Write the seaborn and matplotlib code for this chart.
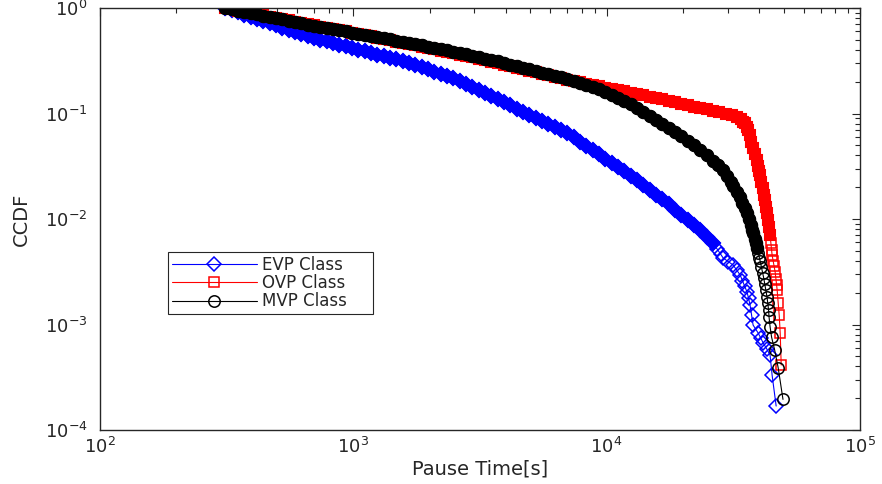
import numpy as np
import pandas as pd
import matplotlib
matplotlib.use("Agg")
import matplotlib.pyplot as plt
import seaborn as sns
from matplotlib.ticker import LogLocator, NullFormatter

# Pause-time CCDF per vehicle class, stored as log10(time [s]) and log10(CCDF)
evp_log_time = [
    2.494, 2.52, 2.545, 2.57, 2.595, 2.62, 2.645, 2.67, 2.695, 2.72,
    2.745, 2.77, 2.795, 2.82, 2.845, 2.87, 2.895, 2.92, 2.945, 2.97,
    2.995, 3.02, 3.045, 3.07, 3.095, 3.12, 3.145, 3.17, 3.195, 3.22,
    3.245, 3.27, 3.295, 3.32, 3.345, 3.37, 3.395, 3.42, 3.445, 3.47,
    3.495, 3.52, 3.545, 3.57, 3.595, 3.62, 3.645, 3.67, 3.695, 3.72,
    3.745, 3.77, 3.795, 3.82, 3.845, 3.87, 3.895, 3.92, 3.945, 3.97,
    3.995, 4.02, 4.045, 4.07, 4.095, 4.12, 4.145, 4.17, 4.195, 4.22,
    4.245, 4.27, 4.295, 4.32, 4.345, 4.37, 4.395, 4.42, 4.435, 4.45,
    4.46, 4.48, 4.499, 4.513, 4.527, 4.536, 4.545, 4.554, 4.560, 4.566,
    4.572, 4.578, 4.598, 4.608, 4.618, 4.632, 4.645, 4.653, 4.669,
]
evp_log_ccdf = [
    0.000, -0.021, -0.042, -0.063, -0.083, -0.104, -0.125, -0.145, -0.165, -0.186,
    -0.206, -0.227, -0.247, -0.268, -0.285, -0.301, -0.316, -0.332, -0.347, -0.363,
    -0.379, -0.394, -0.410, -0.425, -0.441, -0.456, -0.472, -0.487, -0.503, -0.519,
    -0.539, -0.560, -0.581, -0.602, -0.623, -0.644, -0.668, -0.696, -0.724, -0.751,
    -0.779, -0.807, -0.834, -0.862, -0.892, -0.923, -0.954, -0.985, -1.016, -1.045,
    -1.074, -1.102, -1.130, -1.158, -1.187, -1.227, -1.267, -1.307, -1.347, -1.387,
    -1.427, -1.467, -1.507, -1.547, -1.588, -1.631, -1.677, -1.723, -1.769, -1.815,
    -1.862, -1.911, -1.960, -2.009, -2.059, -2.109, -2.168, -2.227, -2.281, -2.334,
    -2.370, -2.404, -2.436, -2.483, -2.531, -2.585, -2.638, -2.692, -2.750, -2.815,
    -2.910, -3.005, -3.081, -3.128, -3.175, -3.232, -3.289, -3.479, -3.773,
]

ovp_log_time = [
    2.494, 2.52, 2.545, 2.57, 2.595, 2.62, 2.645, 2.67, 2.695, 2.72,
    2.745, 2.77, 2.795, 2.82, 2.845, 2.87, 2.895, 2.92, 2.945, 2.97,
    2.995, 3.02, 3.045, 3.07, 3.095, 3.12, 3.145, 3.17, 3.195, 3.22,
    3.245, 3.27, 3.295, 3.32, 3.345, 3.37, 3.395, 3.42, 3.445, 3.47,
    3.495, 3.52, 3.545, 3.57, 3.595, 3.62, 3.645, 3.67, 3.695, 3.72,
    3.745, 3.77, 3.795, 3.82, 3.845, 3.87, 3.895, 3.92, 3.945, 3.97,
    3.995, 4.02, 4.045, 4.07, 4.095, 4.12, 4.145, 4.17, 4.195, 4.22,
    4.245, 4.27, 4.295, 4.32, 4.345, 4.37, 4.395, 4.42, 4.445, 4.47,
    4.495, 4.515, 4.53, 4.54, 4.545, 4.552, 4.558, 4.564, 4.571, 4.578,
    4.586, 4.594, 4.599, 4.603, 4.606, 4.611, 4.616, 4.621, 4.625, 4.629,
    4.633, 4.637, 4.641, 4.645, 4.648, 4.651, 4.653, 4.657, 4.661, 4.665,
    4.668, 4.671, 4.673, 4.677, 4.681, 4.685, 4.689,
]
ovp_log_ccdf = [
    0.000, -0.012, -0.024, -0.035, -0.047, -0.058, -0.070, -0.082, -0.094, -0.106,
    -0.118, -0.130, -0.142, -0.154, -0.165, -0.177, -0.188, -0.200, -0.211, -0.222,
    -0.234, -0.245, -0.257, -0.270, -0.282, -0.294, -0.306, -0.319, -0.331, -0.343,
    -0.355, -0.368, -0.380, -0.393, -0.405, -0.418, -0.430, -0.443, -0.456, -0.469,
    -0.483, -0.496, -0.510, -0.523, -0.537, -0.551, -0.565, -0.579, -0.593, -0.607,
    -0.622, -0.636, -0.650, -0.665, -0.679, -0.692, -0.705, -0.718, -0.731, -0.743,
    -0.756, -0.767, -0.778, -0.790, -0.802, -0.815, -0.828, -0.840, -0.853, -0.866,
    -0.880, -0.893, -0.907, -0.920, -0.934, -0.947, -0.960, -0.974, -0.987, -1.002,
    -1.017, -1.037, -1.055, -1.078, -1.090, -1.125, -1.156, -1.207, -1.267, -1.327,
    -1.384, -1.441, -1.500, -1.548, -1.583, -1.645, -1.708, -1.770, -1.820, -1.883,
    -1.946, -2.009, -2.080, -2.152, -2.223, -2.294, -2.341, -2.395, -2.448, -2.502,
    -2.566, -2.630, -2.673, -2.796, -2.910, -3.081, -3.384,
]

mvp_log_time = [
    2.494, 2.52, 2.545, 2.57, 2.595, 2.62, 2.645, 2.67, 2.695, 2.72,
    2.745, 2.77, 2.795, 2.82, 2.845, 2.87, 2.895, 2.92, 2.945, 2.97,
    2.995, 3.02, 3.045, 3.07, 3.095, 3.12, 3.145, 3.17, 3.195, 3.22,
    3.245, 3.27, 3.295, 3.32, 3.345, 3.37, 3.395, 3.42, 3.445, 3.47,
    3.495, 3.52, 3.545, 3.57, 3.595, 3.62, 3.645, 3.67, 3.695, 3.72,
    3.745, 3.77, 3.795, 3.82, 3.845, 3.87, 3.895, 3.92, 3.945, 3.97,
    3.995, 4.02, 4.045, 4.07, 4.095, 4.12, 4.145, 4.17, 4.195, 4.22,
    4.245, 4.27, 4.295, 4.32, 4.345, 4.37, 4.395, 4.42, 4.44, 4.46,
    4.475, 4.49, 4.50, 4.515, 4.525, 4.535, 4.545, 4.554, 4.561, 4.568,
    4.574, 4.578, 4.584, 4.589, 4.594, 4.599, 4.603, 4.606, 4.611, 4.616,
    4.620, 4.624, 4.628, 4.633, 4.636, 4.639, 4.641, 4.645, 4.651, 4.663,
    4.677, 4.696,
]
mvp_log_ccdf = [
    0.000, -0.012, -0.024, -0.036, -0.048, -0.060, -0.072, -0.084, -0.096, -0.108,
    -0.120, -0.133, -0.145, -0.157, -0.168, -0.179, -0.189, -0.200, -0.211, -0.222,
    -0.233, -0.243, -0.254, -0.265, -0.276, -0.287, -0.298, -0.309, -0.319, -0.330,
    -0.342, -0.354, -0.366, -0.378, -0.390, -0.402, -0.414, -0.426, -0.440, -0.453,
    -0.467, -0.480, -0.494, -0.507, -0.522, -0.537, -0.552, -0.567, -0.582, -0.597,
    -0.612, -0.627, -0.643, -0.658, -0.673, -0.690, -0.709, -0.728, -0.746, -0.765,
    -0.792, -0.820, -0.849, -0.880, -0.913, -0.946, -0.982, -1.021, -1.060, -1.099,
    -1.138, -1.177, -1.217, -1.256, -1.301, -1.349, -1.397, -1.448, -1.492, -1.536,
    -1.593, -1.649, -1.687, -1.744, -1.795, -1.846, -1.897, -1.943, -1.998, -2.054,
    -2.101, -2.133, -2.186, -2.231, -2.275, -2.327, -2.369, -2.400, -2.457, -2.514,
    -2.560, -2.615, -2.671, -2.740, -2.80, -2.86, -2.93, -3.02, -3.12, -3.24,
    -3.41, -3.71,
]

series_labels = ["EVP Class", "OVP Class", "MVP Class"]
series_colors = ["#0000ff", "#ff0000", "#000000"]
series_markers = ["D", "s", "o"]
series_msize = [6.8, 7.0, 8.2]
# Leading stretch of each curve where the samples pile up into a solid band
series_crowded = [78, 104, 95]

sns.set_theme(style="white")
plt.rcParams["font.family"] = ["DejaVu Sans"]
plt.rcParams["mathtext.fontset"] = "dejavusans"

ink = "#262626"
fig = plt.figure(figsize=(8.82, 4.84), dpi=100)
ax = fig.add_axes([100 / 882, 1 - 430 / 484, 760 / 882, 422 / 484])
ax.set_xscale("log")
ax.set_yscale("log")

tables = [
    pd.DataFrame({"time": 10 ** np.array(evp_log_time), "ccdf": 10 ** np.array(evp_log_ccdf)}),
    pd.DataFrame({"time": 10 ** np.array(ovp_log_time), "ccdf": 10 ** np.array(ovp_log_ccdf)}),
    pd.DataFrame({"time": 10 ** np.array(mvp_log_time), "ccdf": 10 ** np.array(mvp_log_ccdf)}),
]

for df, lab, col, mk, ms, nc in zip(tables, series_labels, series_colors,
                                    series_markers, series_msize, series_crowded):
    # overlapping markers where the sample is dense
    sns.lineplot(
        data=df.iloc[:nc], x="time", y="ccdf", ax=ax, sort=False, estimator=None,
        color=col, linestyle="none", marker=mk, markersize=ms,
        markerfacecolor=col, markeredgecolor=col, markeredgewidth=1.5,
        legend=False,
    )
    # the curve itself with hollow markers
    sns.lineplot(
        data=df, x="time", y="ccdf", ax=ax, sort=False, estimator=None,
        color=col, linewidth=0.8, marker=mk, markersize=ms,
        markerfacecolor="none", markeredgecolor=col, markeredgewidth=1.1,
        label=lab, legend=False,
    )

ax.set_xlim(1e2, 1e5)
ax.set_ylim(1e-4, 1)
ax.xaxis.set_major_locator(LogLocator(base=10, numticks=10))
ax.yaxis.set_major_locator(LogLocator(base=10, numticks=10))
ax.xaxis.set_minor_locator(LogLocator(base=10, subs=np.arange(2, 10), numticks=100))
ax.yaxis.set_minor_locator(LogLocator(base=10, subs=np.arange(2, 10), numticks=100))
ax.xaxis.set_minor_formatter(NullFormatter())
ax.yaxis.set_minor_formatter(NullFormatter())

for side in ax.spines.values():
    side.set_visible(True)
    side.set_color(ink)
    side.set_linewidth(1.0)
ax.tick_params(which="both", direction="in", top=True, right=True,
               color=ink, labelcolor=ink, width=0.8)
ax.tick_params(which="major", length=6, labelsize=13)
ax.tick_params(axis="x", which="major", pad=5)
ax.tick_params(axis="y", which="major", pad=9)
ax.tick_params(which="minor", length=3.5)

ax.set_xlabel("Pause Time[s]", fontsize=14, color=ink, labelpad=2)
ax.set_ylabel("CCDF", fontsize=14, color=ink, labelpad=10)

leg = ax.legend(loc="upper left",
                bbox_to_anchor=(68 / 760, 118 / 422, 205 / 760, 60 / 422),
                mode="expand", borderaxespad=0, frameon=True, fancybox=False,
                framealpha=1, edgecolor=ink, fontsize=12, handlelength=5.1,
                handletextpad=0.3, labelspacing=0.02, borderpad=0.22)
leg.get_frame().set_linewidth(0.8)
for t in leg.get_texts():
    t.set_color(ink)

fig.savefig("out.png", dpi=100, facecolor="white")
